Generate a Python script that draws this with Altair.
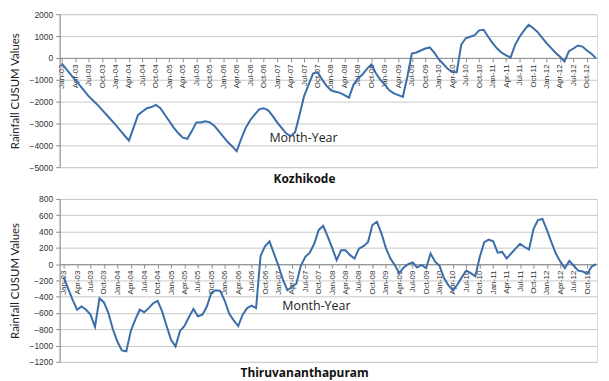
import altair as alt
import pandas as pd

# Quarterly tick labels (Jan-03 .. Oct-12)
quarter_labels = [
    "Jan-03", "Apr-03", "Jul-03", "Oct-03", "Jan-04", "Apr-04", "Jul-04", "Oct-04",
    "Jan-05", "Apr-05", "Jul-05", "Oct-05", "Jan-06", "Apr-06", "Jul-06", "Oct-06",
    "Jan-07", "Apr-07", "Jul-07", "Oct-07", "Jan-08", "Apr-08", "Jul-08", "Oct-08",
    "Jan-09", "Apr-09", "Jul-09", "Oct-09", "Jan-10", "Apr-10", "Jul-10", "Oct-10",
    "Jan-11", "Apr-11", "Jul-11", "Oct-11", "Jan-12", "Apr-12", "Jul-12", "Oct-12",
]

# Monthly rainfall CUSUM values, Jan-03 .. Dec-12
kozhikode = [
    -250, -500, -750, -1000, -1250, -1500, -1750, -1950, -2150, -2380, -2600, -2830,
    -3050, -3300, -3550, -3780, -3200, -2620, -2450, -2300, -2250, -2150, -2300, -2600,
    -2900, -3200, -3450, -3650, -3700, -3350, -2950, -2950, -2900, -2950, -3100, -3350,
    -3600, -3850, -4050, -4270, -3700, -3200, -2850, -2600, -2350, -2300, -2400, -2650,
    -2950, -3200, -3450, -3580, -3400, -2600, -1750, -1230, -720, -650, -980, -1280,
    -1480, -1550, -1600, -1700, -1820, -1230, -940, -760, -500, -300, -700, -1000,
    -1230, -1480, -1620, -1700, -1780, -860, 200, 250, 340, 430, 480, 240,
    -60, -280, -500, -640, -650, 600, 900, 970, 1040, 1260, 1290, 970,
    680, 430, 240, 120, 20, 600, 970, 1260, 1510, 1370, 1190, 930,
    680, 460, 240, 50, -160, 310, 430, 570, 520, 340, 190, -10,
]

thiruvananthapuram = [
    -160, -300, -440, -560, -520, -560, -620, -770, -420, -470, -600, -800,
    -950, -1060, -1070, -820, -680, -560, -590, -540, -480, -450, -580, -760,
    -930, -1010, -820, -760, -650, -550, -640, -620, -520, -350, -320, -330,
    -450, -610, -690, -760, -620, -540, -510, -540, 100, 220, 280, 130,
    -20, -190, -320, -280, -240, -20, 90, 140, 250, 420, 470, 340,
    200, 50, 170, 170, 110, 70, 190, 220, 270, 480, 520, 380,
    200, 70, -10, -110, -40, 0, 20, -40, -10, -50, 130, 30,
    -20, -170, -260, -320, -250, -160, -80, -110, -150, 90, 270, 300,
    280, 140, 150, 70, 130, 190, 250, 210, 180, 430, 540, 555,
    420, 270, 130, 30, -50, 40, -20, -80, -90, -120, -30, 0,
]

month_index = list(range(len(kozhikode)))
tick_values = list(range(0, 120, 3))

LINE = "#3b6da9"
GRID = "#c9c9c9"
AXIS = "#8c8c8c"
label_expr = "[" + ",".join("'%s'" % s for s in quarter_labels) + "][floor(datum.value/3)]"


def panel(values, ydomain, ystep, city, width, height, xdomain, title_x, title_y):
    df = pd.DataFrame({"m": month_index, "v": values})
    zero_frac = ydomain[1] / (ydomain[1] - ydomain[0])
    axis_offset = -(height * (1 - zero_frac))
    x = alt.X(
        "m:Q",
        scale=alt.Scale(domain=xdomain, nice=False, zero=False),
        axis=alt.Axis(
            values=tick_values,
            labelExpr=label_expr,
            labelAngle=270,
            labelFontSize=8,
            labelFont="Liberation Sans",
            labelColor="#333333",
            labelPadding=2,
            offset=axis_offset,
            grid=False,
            domainColor=AXIS,
            tickColor=AXIS,
            tickSize=4,
            title="Month-Year",
            titleFont="Open Sans",
            titleFontSize=12.5,
            titleFontWeight="normal",
            titleColor="#222222",
            titleX=title_x,
            titleY=title_y,
            titleAlign="center",
            titleBaseline="middle",
        ),
    )
    y = alt.Y(
        "v:Q",
        scale=alt.Scale(domain=ydomain, nice=False, zero=False),
        axis=alt.Axis(
            values=list(range(ydomain[0], ydomain[1] + 1, ystep)),
            format="d",
            labelFontSize=8.5,
            labelFont="Liberation Sans",
            labelColor="#333333",
            labelPadding=3,
            grid=True,
            gridColor=GRID,
            domainColor=AXIS,
            tickColor=AXIS,
            tickSize=4,
            title="Rainfall CUSUM Values",
            titleFont="Lato",
            titleFontSize=11.5,
            titleFontWeight="normal",
            titleColor="#222222",
            titlePadding=9,
        ),
    )
    return (
        alt.Chart(df)
        .mark_line(color=LINE, strokeWidth=2)
        .encode(x=x, y=y)
        .properties(
            width=width,
            height=height,
            title=alt.TitleParams(
                city,
                orient="bottom",
                anchor="middle",
                frame="bounds",
                font="Open Sans",
                fontSize=12,
                fontWeight="bold",
                color="#111111",
                offset=2,
            ),
        )
    )


top = panel(kozhikode, [-5000, 2000], 1000, "Kozhikode", 541, 154,
            [-0.44, 119.25], 245, 80)
bottom = panel(thiruvananthapuram, [-1200, 800], 200, "Thiruvananthapuram", 541, 164,
               [-0.9, 119.2], 258, 42)

chart = (
    alt.vconcat(top, bottom, spacing=9)
    .properties(padding=0)
    .configure_view(stroke=None)
    .configure(background="white")
)

chart.save("out.html", embed_options={"renderer": "svg", "actions": False})
